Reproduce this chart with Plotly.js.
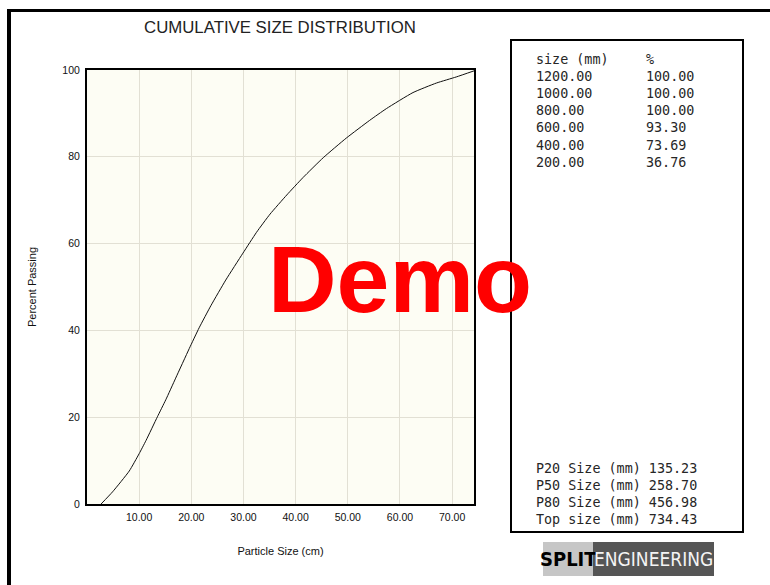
<!DOCTYPE html>
<html>
<head>
<meta charset="utf-8">
<script src="https://cdn.plot.ly/plotly-3.0.1.min.js"></script>
<style>html,body{margin:0;padding:0;background:#fff;}#chart{width:770px;height:585px;}</style>
</head>
<body>
<div id="chart"></div>
<script>
// ---- data ----
const particleSize = [2.7, 4.9, 8.1, 10.0, 11.3, 13.5, 15.1, 17.0, 19.6, 21.5, 23.8, 26.6, 29.9, 32.5, 35.1, 38.3, 41.4, 45.3, 49.7, 54.2, 57.4, 62.5, 67.0, 70.8, 74.2];
const percentPassing = [0, 2.8, 7.6, 11.6, 14.6, 20.1, 24.0, 29.0, 35.8, 40.6, 45.8, 51.6, 57.8, 62.6, 66.8, 71.2, 75.2, 79.8, 84.3, 88.4, 91.1, 94.8, 97.0, 98.4, 99.8];
const xTickVals = [10, 20, 30, 40, 50, 60, 70];
const xTickText = ['10.00', '20.00', '30.00', '40.00', '50.00', '60.00', '70.00'];
const yTickVals = [0, 20, 40, 60, 80, 100];
const yTickText = ['0', '20', '40', '60', '80', '100'];
const tableHeader = ['size (mm)', '%'];
const tableSizes = ['1200.00', '1000.00', '800.00', '600.00', '400.00', '200.00'];
const tablePercent = ['100.00', '100.00', '100.00', '93.30', '73.69', '36.76'];
const statLabels = ['P20 Size (mm)', 'P50 Size (mm)', 'P80 Size (mm)', 'Top size (mm)'];
const statValues = ['135.23', '258.70', '456.98', '734.43'];
const chartTitle = 'CUMULATIVE SIZE DISTRIBUTION';
const xTitle = 'Particle Size (cm)';
const yTitle = 'Percent Passing';
const watermark = 'Demo';
const logoLeft = 'SPLIT';
const logoRight = 'ENGINEERING';

// ---- layout helpers (pixel -> paper) ----
const L = 87, R = 474, T = 70, B = 504;
const fx = x => (x - L) / (R - L);
const fy = y => (B - y) / (B - T);
const sans = 'Liberation Sans, Arial, sans-serif';
const mono = 'DejaVu Sans Mono, Liberation Mono, monospace';

const annotations = [];
const rowY0 = 59, rowStep = 17.2;
annotations.push({text: tableHeader[0], x: fx(534), y: fy(rowY0)});
annotations.push({text: tableHeader[1], x: fx(644), y: fy(rowY0)});
tableSizes.forEach((s, i) => {
  annotations.push({text: s, x: fx(534), y: fy(rowY0 + rowStep * (i + 1))});
  annotations.push({text: tablePercent[i], x: fx(644), y: fy(rowY0 + rowStep * (i + 1))});
});
const statY0 = 468;
statLabels.forEach((s, i) => {
  annotations.push({text: s + ' ' + statValues[i], x: fx(534), y: fy(statY0 + rowStep * i)});
});
annotations.forEach(a => {
  Object.assign(a, {xref: 'paper', yref: 'paper', xanchor: 'left', yanchor: 'middle', showarrow: false,
    font: {family: mono, size: 13.4, color: '#262626'}});
});
// logo
annotations.push({text: logoLeft, x: fx(568), y: fy(559), xref: 'paper', yref: 'paper', xanchor: 'center', yanchor: 'middle', showarrow: false,
  font: {family: 'Liberation Sans Narrow, DejaVu Sans Condensed, ' + sans, size: 20, color: '#000', weight: 700}});
annotations.push({text: logoRight, x: fx(653.5), y: fy(559), xref: 'paper', yref: 'paper', xanchor: 'center', yanchor: 'middle', showarrow: false,
  font: {family: 'Liberation Sans Narrow, DejaVu Sans Condensed, ' + sans, size: 19, color: '#f4f4f4'}});
// watermark
annotations.push({text: '<b>' + watermark + '</b>', x: fx(400), y: fy(279), xref: 'paper', yref: 'paper', xanchor: 'center', yanchor: 'middle', showarrow: false,
  font: {family: sans, size: 95, color: '#ff0000'}});

const shapes = [
  // outer frame
  {type: 'line', xref: 'paper', yref: 'paper', x0: fx(9), x1: fx(9), y0: fy(9), y1: fy(590), line: {color: '#000', width: 4}},
  {type: 'line', xref: 'paper', yref: 'paper', x0: fx(7), x1: fx(772), y0: fy(10.5), y1: fy(10.5), line: {color: '#000', width: 3}},
  // table box
  {type: 'rect', xref: 'paper', yref: 'paper', x0: fx(511), x1: fx(743), y0: fy(40), y1: fy(532), line: {color: '#000', width: 2}, fillcolor: 'rgba(0,0,0,0)'},
  // logo blocks
  {type: 'rect', xref: 'paper', yref: 'paper', x0: fx(543), x1: fx(593), y0: fy(542), y1: fy(576), line: {width: 0}, fillcolor: '#c6c6c6'},
  {type: 'rect', xref: 'paper', yref: 'paper', x0: fx(593), x1: fx(714), y0: fy(542), y1: fy(576), line: {width: 0}, fillcolor: '#555555'}
];

const trace = {
  x: particleSize, y: percentPassing, type: 'scatter', mode: 'lines',
  line: {color: '#111', width: 1, shape: 'spline', smoothing: 0.5},
  hoverinfo: 'x+y'
};

const layout = {
  width: 770, height: 585,
  margin: {l: L, r: 770 - R, t: T, b: 585 - B, pad: 0},
  paper_bgcolor: '#ffffff', plot_bgcolor: '#fdfdf4',
  showlegend: false,
  font: {family: sans, color: '#111'},
  title: {text: chartTitle, font: {family: sans, size: 16.8, color: '#222'},
    xref: 'container', x: 280 / 770, xanchor: 'center', yref: 'container', y: 1 - 27 / 585, yanchor: 'middle'},
  xaxis: {range: [0, 74.2], tickvals: xTickVals, ticktext: xTickText, showgrid: true, gridcolor: '#e2e0d4', gridwidth: 1,
    showline: true, mirror: true, linecolor: '#000', linewidth: 2, zeroline: false,
    ticks: 'outside', ticklen: 2, tickcolor: 'rgba(0,0,0,0)',
    tickfont: {family: sans, size: 10.5, color: '#111'}, fixedrange: true,
    title: {text: xTitle, font: {family: sans, size: 11, color: '#111'}, standoff: 26}},
  yaxis: {range: [0, 100], tickvals: yTickVals, ticktext: yTickText, showgrid: true, gridcolor: '#e2e0d4', gridwidth: 1,
    showline: true, mirror: true, linecolor: '#000', linewidth: 2, zeroline: false,
    ticks: 'outside', ticklen: 3, tickcolor: 'rgba(0,0,0,0)',
    tickfont: {family: sans, size: 10.5, color: '#111'}, fixedrange: true,
    title: {text: yTitle, font: {family: sans, size: 11, color: '#111'}, standoff: 24}},
  shapes: shapes,
  annotations: annotations
};

Plotly.newPlot('chart', [trace], layout, {displayModeBar: false, staticPlot: true});
</script>
</body>
</html>
